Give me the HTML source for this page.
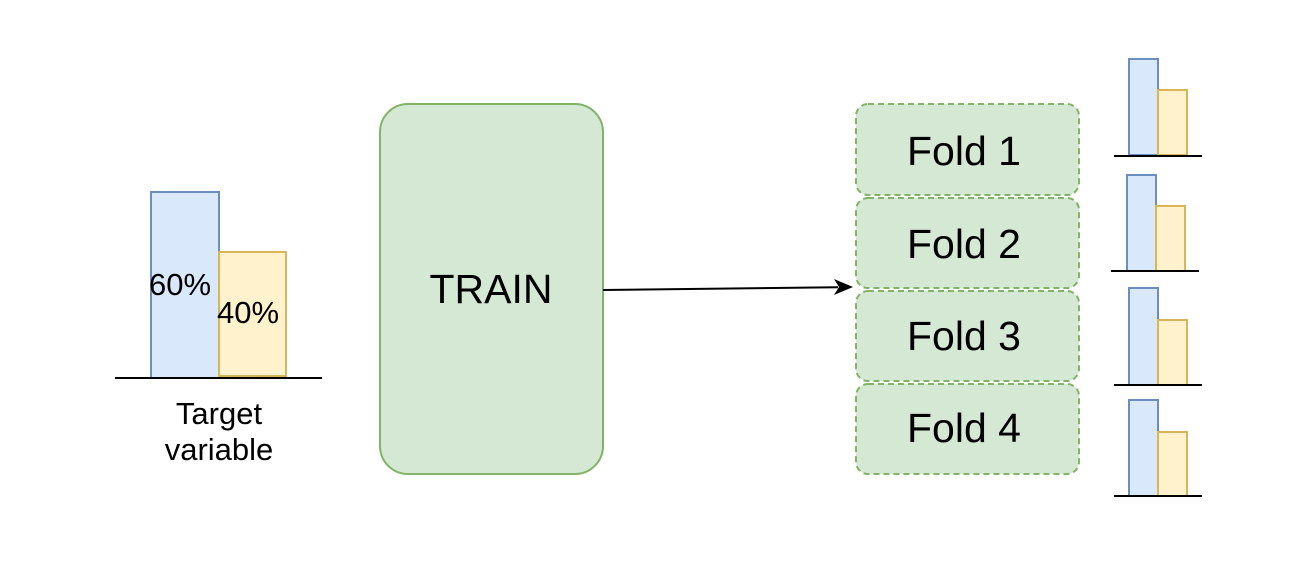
<!DOCTYPE html>
<html><head><meta charset="utf-8"><style>html,body{margin:0;padding:0;background:#fff}svg{display:block}</style></head>
<body>
<svg width="1310" height="580" viewBox="0 0 1310 580" xmlns="http://www.w3.org/2000/svg" font-family="Liberation Sans, Arial, sans-serif">
<rect x="0" y="0" width="1310" height="580" fill="#fff"/>
<rect x="151" y="192" width="68" height="186" fill="#dae8fc" stroke="#6c8ebf" stroke-width="2"/>
<rect x="219" y="252" width="67" height="124" fill="#fff2cc" stroke="#d6b656" stroke-width="2"/>
<line x1="115" y1="378" x2="322" y2="378" stroke="#000" stroke-width="2"/>
<text x="149" y="295" font-size="31">60%</text>
<text x="217" y="323" font-size="31">40%</text>
<text x="219" y="424" font-size="31" text-anchor="middle">Target</text>
<text x="219" y="460" font-size="31" text-anchor="middle">variable</text>
<rect x="380" y="104" width="223" height="370" rx="28" fill="#d5e8d4" stroke="#82b366" stroke-width="2"/>
<text x="491" y="303" font-size="41" text-anchor="middle">TRAIN</text>
<line x1="603" y1="290" x2="838" y2="287.3" stroke="#000" stroke-width="2"/>
<path d="M853,287 L834,295 L839,287 L834,279 Z" fill="#000"/>
<g fill="#d5e8d4" stroke="#82b366" stroke-width="2" stroke-dasharray="6,4">
<rect x="856" y="104" width="223" height="91" rx="12"/>
<rect x="856" y="198" width="223" height="90" rx="12"/>
<rect x="856" y="291" width="223" height="90" rx="12"/>
<rect x="856" y="384" width="223" height="90" rx="12"/>
</g>
<g font-size="41" text-anchor="middle">
<text x="964" y="165">Fold 1</text>
<text x="964" y="258">Fold 2</text>
<text x="964" y="350">Fold 3</text>
<text x="964" y="442">Fold 4</text>
</g>
<g stroke-width="2">
<rect x="1129" y="59" width="29" height="96" fill="#dae8fc" stroke="#6c8ebf"/>
<rect x="1158" y="90" width="29" height="65" fill="#fff2cc" stroke="#d6b656"/>
<line x1="1114" y1="156" x2="1202" y2="156" stroke="#000"/>
<rect x="1127" y="175" width="29" height="96" fill="#dae8fc" stroke="#6c8ebf"/>
<rect x="1156" y="206" width="29" height="65" fill="#fff2cc" stroke="#d6b656"/>
<line x1="1111" y1="271" x2="1199" y2="271" stroke="#000"/>
<rect x="1129" y="288" width="29" height="97" fill="#dae8fc" stroke="#6c8ebf"/>
<rect x="1158" y="320" width="29" height="65" fill="#fff2cc" stroke="#d6b656"/>
<line x1="1114" y1="385" x2="1202" y2="385" stroke="#000"/>
<rect x="1129" y="400" width="29" height="96" fill="#dae8fc" stroke="#6c8ebf"/>
<rect x="1158" y="432" width="29" height="64" fill="#fff2cc" stroke="#d6b656"/>
<line x1="1114" y1="496" x2="1202" y2="496" stroke="#000"/>
</g>
</svg>
</body></html>
